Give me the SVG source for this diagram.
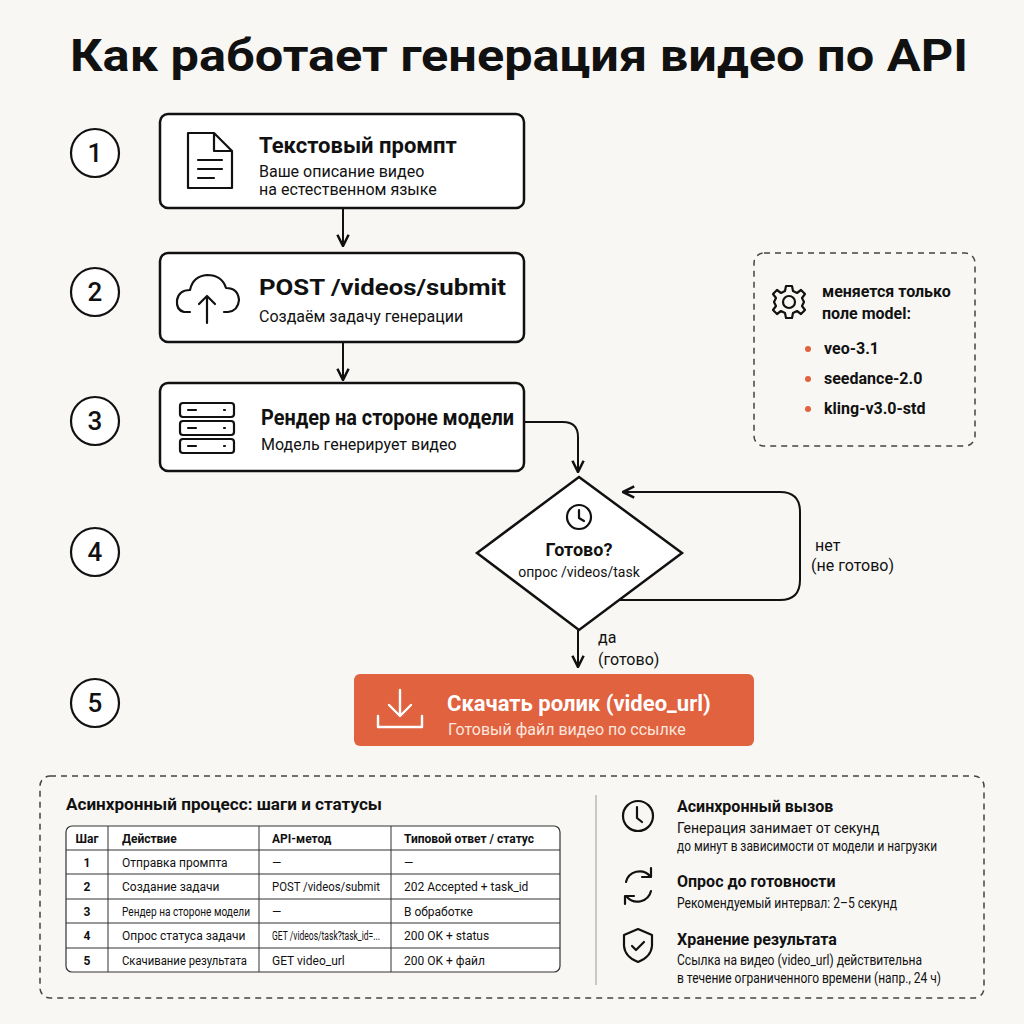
<svg xmlns="http://www.w3.org/2000/svg" width="1024" height="1024" viewBox="0 0 1024 1024">
<style>
text{font-family:"Roboto","Liberation Sans",sans-serif;fill:#111}
.t{font-size:44px;font-weight:700}
.h{font-size:22px;font-weight:700}
.s{font-size:16px}
.num{font-size:26px;font-weight:500;text-anchor:middle}
.box{fill:#fff;stroke:#111;stroke-width:2.5}
.ic{fill:none;stroke:#111;stroke-width:2.2;stroke-linecap:round;stroke-linejoin:round}
.ln{fill:none;stroke:#111;stroke-width:2}
.dash{fill:none;stroke:#444;stroke-width:1.5;stroke-dasharray:6 5}
.b{font-size:16px;font-weight:700}
.m{font-size:14px}
.td{font-size:12px}
.th{font-size:12px;font-weight:700}
.grid{stroke:#333;stroke-width:1}
</style>
<defs>
<marker id="a" viewBox="0 0 10 10" refX="9" refY="5" markerWidth="7" markerHeight="7" orient="auto"><path d="M1 1L9 5L1 9" fill="none" stroke="#111" stroke-width="1.8"/></marker>
</defs>
<rect width="1024" height="1024" fill="#f8f7f4"/>
<text class="t" x="70" y="71" textLength="898" lengthAdjust="spacingAndGlyphs">Как работает генерация видео по API</text>

<g id="steps">
<circle cx="95" cy="153" r="24" fill="#fff" stroke="#111" stroke-width="2.2"/><text class="num" x="95" y="162">1</text>
<circle cx="95" cy="292" r="24" fill="#fff" stroke="#111" stroke-width="2.2"/><text class="num" x="95" y="301">2</text>
<circle cx="95" cy="421" r="24" fill="#fff" stroke="#111" stroke-width="2.2"/><text class="num" x="95" y="430">3</text>
<circle cx="95" cy="552" r="24" fill="#fff" stroke="#111" stroke-width="2.2"/><text class="num" x="95" y="561">4</text>
<circle cx="95" cy="703" r="24" fill="#fff" stroke="#111" stroke-width="2.2"/><text class="num" x="95" y="712">5</text>
</g>

<g id="connectors">
<path class="ln" d="M343 208V246" marker-end="url(#a)"/>
<path class="ln" d="M343 342V380" marker-end="url(#a)"/>
<path class="ln" d="M524 422H563Q578 422 578 437V472" marker-end="url(#a)"/>
<path class="ln" d="M606 600H780Q800 600 800 580V512Q800 492 780 492H623" marker-end="url(#a)"/>
<path class="ln" d="M578 630V667" marker-end="url(#a)"/>
<text class="s" x="815" y="551">нет</text>
<text class="s" x="811" y="571">(не готово)</text>
<text class="s" x="598" y="643">да</text>
<text class="s" x="598" y="665">(готово)</text>
</g>

<g id="n1">
<rect class="box" x="160" y="114" width="364" height="94" rx="8"/>
<path class="ic" d="M188 133H214L232 151V188H188Z M214 133V151H232 M198 160H222 M198 169H222 M198 178H214"/>
<text class="h" x="259" y="153">Текстовый промпт</text>
<text class="s" x="259" y="177">Ваше описание видео</text>
<text class="s" x="259" y="195">на естественном языке</text>
</g>
<g id="n2">
<rect class="box" x="160" y="253" width="364" height="89" rx="8"/>
<path class="ic" d="M190 312H184Q176 310 177 300Q179 290 190 290Q193 276 207 275Q222 275 226 288Q238 288 239 300Q238 311 228 312H224 M207 323V296 M199 304L207 296L215 304"/>
<text class="h" x="259" y="295" textLength="247" lengthAdjust="spacingAndGlyphs">POST /videos/submit</text>
<text class="s" x="259" y="322">Создаём задачу генерации</text>
</g>
<g id="n3">
<rect class="box" x="160" y="383" width="364" height="88" rx="8"/>
<rect class="ic" x="180" y="403" width="54" height="14" rx="3"/>
<rect class="ic" x="180" y="421" width="54" height="14" rx="3"/>
<rect class="ic" x="180" y="439" width="54" height="14" rx="3"/>
<path class="ic" d="M188 410H196 M188 428H196 M188 446H196 M224 410h1 M224 428h1 M224 446h1"/>
<text class="h" x="261" y="425" textLength="253" lengthAdjust="spacingAndGlyphs">Рендер на стороне модели</text>
<text class="s" x="261" y="450">Модель генерирует видео</text>
</g>
<g id="n4">
<path class="box" d="M579 477L682 553L579 630L477 553Z"/>
<circle class="ic" cx="579" cy="517" r="12"/>
<path class="ic" d="M579 510V518L584 521"/>
<text x="579" y="556" text-anchor="middle" style="font-size:18px;font-weight:700">Готово?</text>
<text x="579" y="577" text-anchor="middle" style="font-size:14px">опрос /videos/task</text>
</g>
<g id="n5">
<rect x="354" y="674" width="400" height="72" rx="6" fill="#e0623f"/>
<path d="M400 690V715 M389 705L400 716L411 705 M378 716V727H422V716" fill="none" stroke="#fff" stroke-width="2.4" stroke-linecap="round" stroke-linejoin="round"/>
<text x="447" y="711" style="font-size:22px;font-weight:700;fill:#fff">Скачать ролик (video_url)</text>
<text x="448" y="735" style="font-size:16px;fill:#fde6dd">Готовый файл видео по ссылке</text>
</g>

<g id="models">
<rect class="dash" x="754" y="253" width="221" height="193" rx="10"/>
<g transform="translate(789 302)">
<circle class="ic" r="6"/>
<path class="ic" d="M-3 -16H3L4 -11L8 -9L12 -12L16 -8L13 -4L15 0L13 4L16 8L12 12L8 9L4 11L3 16H-3L-4 11L-8 9L-12 12L-16 8L-13 4L-15 0L-13 -4L-16 -8L-12 -12L-8 -9L-4 -11Z"/>
</g>
<text class="b" x="822" y="297">меняется только</text>
<text class="b" x="822" y="319">поле model:</text>
<circle cx="808" cy="349" r="3" fill="#e0623f"/><text class="b" x="824" y="354">veo-3.1</text>
<circle cx="808" cy="379" r="3" fill="#e0623f"/><text class="b" x="824" y="384">seedance-2.0</text>
<circle cx="808" cy="409" r="3" fill="#e0623f"/><text class="b" x="824" y="414">kling-v3.0-std</text>
</g>

<g id="info">
<rect class="dash" x="40" y="776" width="944" height="222" rx="10"/>
<line x1="596" y1="795" x2="596" y2="985" stroke="#999" stroke-width="1"/>
<text x="66" y="810" style="font-size:16.5px;font-weight:700" textLength="316" lengthAdjust="spacingAndGlyphs">Асинхронный процесс: шаги и статусы</text>
<rect x="66" y="826" width="494" height="146" rx="6" fill="#fff" stroke="#333" stroke-width="1.2"/>
<path class="grid" d="M108 826V972 M259 826V972 M391 826V972 M66 850H560 M66 874H560 M66 899H560 M66 923H560 M66 948H560"/>
<text class="th" x="87" y="843" text-anchor="middle">Шаг</text>
<text class="th" x="122" y="843">Действие</text>
<text class="th" x="272" y="843">API-метод</text>
<text class="th" x="404" y="843">Типовой ответ / статус</text>
<text class="th" x="87" y="867" text-anchor="middle">1</text><text class="td" x="122" y="867">Отправка промпта</text><text class="td" x="272" y="867">—</text><text class="td" x="404" y="867">—</text>
<text class="th" x="87" y="891" text-anchor="middle">2</text><text class="td" x="122" y="891">Создание задачи</text><text class="td" x="272" y="891" textLength="108" lengthAdjust="spacingAndGlyphs">POST /videos/submit</text><text class="td" x="404" y="891">202 Accepted + task_id</text>
<text class="th" x="87" y="916" text-anchor="middle">3</text><text class="td" x="122" y="916" textLength="128" lengthAdjust="spacingAndGlyphs">Рендер на стороне модели</text><text class="td" x="272" y="916">—</text><text class="td" x="404" y="916">В обработке</text>
<text class="th" x="87" y="940" text-anchor="middle">4</text><text class="td" x="122" y="940">Опрос статуса задачи</text><text class="td" x="272" y="940" textLength="108" lengthAdjust="spacingAndGlyphs">GET /videos/task?task_id=...</text><text class="td" x="404" y="940">200 OK + status</text>
<text class="th" x="87" y="965" text-anchor="middle">5</text><text class="td" x="122" y="965" textLength="125" lengthAdjust="spacingAndGlyphs">Скачивание результата</text><text class="td" x="272" y="965">GET video_url</text><text class="td" x="404" y="965">200 OK + файл</text>
<circle class="ic" cx="638" cy="816" r="15"/><path class="ic" d="M637 807V818L642 822"/>
<path class="ic" d="M626 882A14 14 0 0 1 650 876 M651 868V877H642 M651 891A14 14 0 0 1 627 897 M625 904V896H634"/>
<path class="ic" d="M638 929L652 935V946Q651 957 638 962Q625 957 624 946V935Z M632 946L636 950L644 942"/>
<text class="b" x="677" y="812">Асинхронный вызов</text>
<text class="m" x="677" y="833">Генерация занимает от секунд</text>
<text class="m" x="677" y="851" textLength="260" lengthAdjust="spacingAndGlyphs">до минут в зависимости от модели и нагрузки</text>
<text class="b" x="677" y="887">Опрос до готовности</text>
<text class="m" x="677" y="908" textLength="220" lengthAdjust="spacingAndGlyphs">Рекомендуемый интервал: 2–5 секунд</text>
<text class="b" x="677" y="945">Хранение результата</text>
<text class="m" x="677" y="965" textLength="245" lengthAdjust="spacingAndGlyphs">Ссылка на видео (video_url) действительна</text>
<text class="m" x="677" y="983" textLength="264" lengthAdjust="spacingAndGlyphs">в течение ограниченного времени (напр., 24 ч)</text>
</g>
</svg>
